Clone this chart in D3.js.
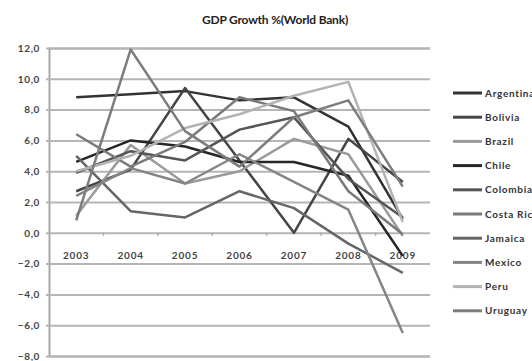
<!DOCTYPE html>
<html>
<head>
<meta charset="utf-8">
<script src="https://cdn.jsdelivr.net/npm/d3@7"></script>
<style>
  body { margin: 0; background: #fff; }
  svg text { font-family: Lato, "Open Sans", sans-serif; }
</style>
</head>
<body>
<svg id="chart" width="532" height="361"></svg>
<script>
// GDP growth %
var years = ["2003", "2004", "2005", "2006", "2007", "2008", "2009"];
var yTicks = [12, 10, 8, 6, 4, 2, 0, -2, -4, -6, -8];

var argentina = [8.8, 9.0, 9.2, 8.6, 8.8, 6.9, 0.9];
var bolivia   = [2.7, 4.1, 9.4, 4.7, 0.0, 6.1, 3.3];
var brazil    = [1.1, 5.7, 3.2, 4.0, 6.1, 5.1, -0.2];
var chile     = [4.6, 6.0, 5.6, 4.6, 4.6, 3.7, -1.5];
var colombia  = [3.9, 5.3, 4.7, 6.7, 7.5, 3.5, 1.0];
var costaRica = [6.4, 4.3, 5.9, 8.8, 7.9, 2.7, -0.1];
var jamaica   = [5.0, 1.4, 1.0, 2.7, 1.6, -0.7, -2.6];
var mexico    = [2.4, 4.2, 3.2, 5.1, 3.3, 1.5, -6.5];
var peru      = [4.0, 5.0, 6.8, 7.7, 8.9, 9.8, 0.7];
var uruguay   = [0.8, 11.9, 6.6, 4.3, 7.5, 8.6, 3.0];

var series = [
  {key: "Argentina", values: argentina, color: "#333333"},
  {key: "Bolivia", values: bolivia, color: "#454545"},
  {key: "Brazil", values: brazil, color: "#9a9a9a"},
  {key: "Chile", values: chile, color: "#262626"},
  {key: "Colombia", values: colombia, color: "#555555"},
  {key: "Costa Rica", values: costaRica, color: "#7a7a7a"},
  {key: "Jamaica", values: jamaica, color: "#666666"},
  {key: "Mexico", values: mexico, color: "#858585"},
  {key: "Peru", values: peru, color: "#b3b3b3"},
  {key: "Uruguay", values: uruguay, color: "#7d7d7d"}
];

var svg = d3.select("#chart");
var plotLeft = 49, plotRight = 430, plotTop = 48, plotBottom = 356;

var x = d3.scaleBand().domain(years).range([plotLeft, plotRight]);
var y = d3.scaleLinear().domain([-8, 12]).range([plotBottom, plotTop]);

svg.append("text")
  .attr("x", 275).attr("y", 24)
  .attr("text-anchor", "middle")
  .style("font-size", "12px").style("font-weight", "bold")
  .style("letter-spacing", "-0.2px").style("fill", "#222")
  .text("GDP Growth %(World Bank)");

// horizontal gridlines + y labels
var yAxis = d3.axisLeft(y).tickValues(yTicks)
  .tickSize(-(plotRight - plotLeft))
  .tickFormat(function (d) { return d3.format(".1f")(d).replace(".", ","); });

var gy = svg.append("g").attr("transform", "translate(" + plotLeft + ",0)").call(yAxis);
gy.select(".domain").attr("stroke", "#a8a8a8").attr("stroke-width", 2);
gy.selectAll(".tick line").attr("stroke", "#b5b5b5").attr("stroke-width", 2)
  .attr("x1", -3);
gy.selectAll(".tick text")
  .attr("x", -9)
  .style("font-size", "10px").style("font-weight", "bold")
  .style("letter-spacing", "0.6px").style("fill", "#444");

// category axis on the zero line
var xAxis = d3.axisBottom(x).tickSize(0).tickPadding(19);
var gx = svg.append("g").attr("transform", "translate(0," + y(0) + ")").call(xAxis);
gx.select(".domain").remove();
gx.selectAll(".tick text")
  .style("font-size", "10px").style("font-weight", "bold")
  .style("letter-spacing", "0.8px").style("fill", "#444");

// little tick marks between the categories
svg.append("g").selectAll("line")
  .data(years.slice(1))
  .join("line")
  .attr("x1", function (d) { return x(d); })
  .attr("x2", function (d) { return x(d); })
  .attr("y1", y(0)).attr("y2", y(0) + 3)
  .attr("stroke", "#a8a8a8").attr("stroke-width", 1.5);

var line = d3.line()
  .x(function (d, i) { return x(years[i]) + x.bandwidth() / 2; })
  .y(function (d) { return y(d); });

svg.append("g").selectAll("path")
  .data(series)
  .join("path")
  .attr("d", function (s) { return line(s.values); })
  .attr("fill", "none")
  .attr("stroke", function (s) { return s.color; })
  .attr("stroke-width", 2.5)
  .attr("stroke-linejoin", "round");

// legend
var leg = svg.append("g").selectAll("g")
  .data(series)
  .join("g")
  .attr("transform", function (s, i) { return "translate(453," + (93 + i * 24.2) + ")"; });

leg.append("line")
  .attr("x1", 0).attr("x2", 29)
  .attr("stroke", function (s) { return s.color; })
  .attr("stroke-width", 3);

leg.append("text")
  .attr("x", 32).attr("dy", "0.35em")
  .style("font-size", "10px").style("font-weight", "bold")
  .style("letter-spacing", "0.7px").style("fill", "#333")
  .text(function (s) { return s.key; });
</script>
</body>
</html>
